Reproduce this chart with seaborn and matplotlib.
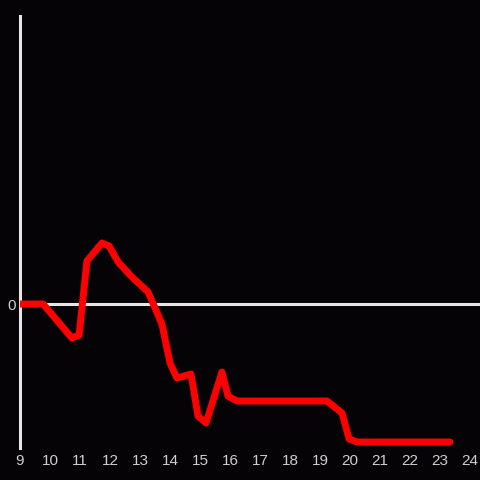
import matplotlib
matplotlib.use('Agg')
import matplotlib.pyplot as plt
import seaborn as sns
import pandas as pd

# hour of day and value (arbitrary units, 0 = baseline)
hours = [9.0, 9.77, 10.73, 10.97, 11.23, 11.73, 11.97, 12.27, 12.73, 13.27,
         13.73, 14.0, 14.23, 14.7, 14.93, 15.2, 15.73, 15.93, 16.23, 19.23,
         19.73, 19.97, 20.23, 23.33]
values = [0, 0, -34, -31, 43, 61, 58, 42, 27, 12,
          -20, -59, -74, -70, -112, -119, -68, -92, -97, -97,
          -109, -135, -138, -138]
xticks = list(range(9, 25))

df = pd.DataFrame({'hour': hours, 'value': values})

bg = '#050306'
sns.set_style('dark')
plt.rcParams['font.family'] = ['Liberation Sans', 'DejaVu Sans']
fig = plt.figure(figsize=(4.8, 4.8), dpi=100, facecolor=bg)
ax = fig.add_axes([20 / 480, 1 - 448 / 480, 460 / 480, 432 / 480])
ax.set_facecolor(bg)

ax.axhline(0, color='#e6e6e6', lw=2.2, zorder=1)
sns.lineplot(data=df, x='hour', y='value', color='#ff0000', lw=5, ax=ax, zorder=3)

ax.set_xlim(9, 24.33)
ax.set_ylim(-144, 288)
ax.set_xticks(xticks)
ax.set_xticklabels([str(t) for t in xticks])
ax.set_yticks([0])
ax.set_yticklabels(['0'])
ax.tick_params(axis='both', length=0, colors='#cfcfcf', labelsize=11)
ax.tick_params(axis='x', pad=4.5)
ax.tick_params(axis='y', pad=3)
ax.set_xlabel('')
ax.set_ylabel('')
ax.grid(False)

for s in ['top', 'right', 'bottom']:
    ax.spines[s].set_visible(False)
ax.spines['left'].set_visible(True)
ax.spines['left'].set_color('#e6e6e6')
ax.spines['left'].set_linewidth(2.2)

fig.savefig('out.png', dpi=100, facecolor=bg)
plt.close()
